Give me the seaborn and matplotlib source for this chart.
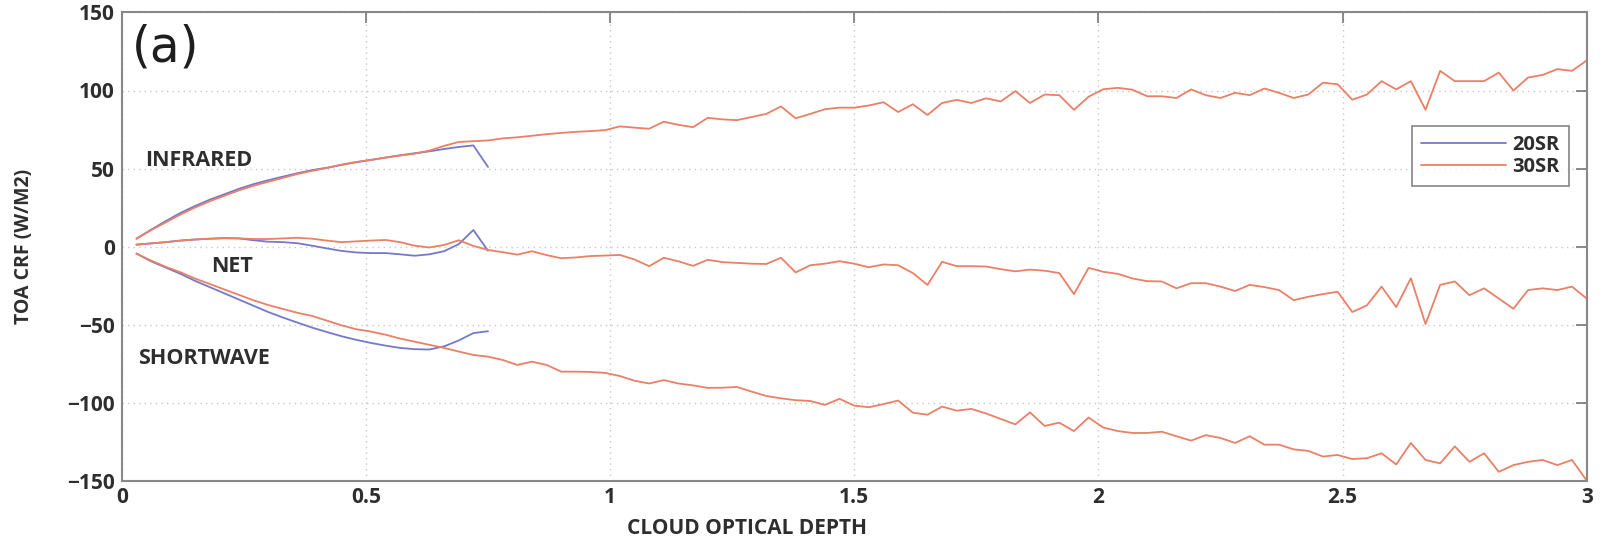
import numpy as np
import pandas as pd
import seaborn as sns
import matplotlib.pyplot as plt

# cloud optical depth grid (30SR runs to 3.0, 20SR stops at 0.75)
DEPTH_30 = np.round(np.arange(1, 101) * 0.03, 2)
DEPTH_20 = DEPTH_30[:25]

IR_30 = [5, 10.5, 15.5, 20.5, 25, 29, 32.5, 36, 39, 41.5,
         44, 46.5, 48.5, 50.3, 52.5, 54.2, 55.5, 57, 58.3, 59.5,
         61.5, 64.5, 67, 67.5, 68, 69.3, 70, 71, 72, 72.8,
         73.5, 74, 74.6, 77, 76.2, 75.5, 80, 78, 76.5, 82.5,
         81.5, 81, 83, 85, 89.8, 82.2, 85, 88, 89, 89,
         90.4, 92.5, 86.2, 91.2, 84.3, 92, 94, 92, 95, 93,
         99.6, 92, 97.4, 97, 87.6, 96, 100.8, 101.7, 100.5, 96.3,
         96.3, 95.2, 100.7, 97, 95.2, 98.5, 97, 101.3, 98.5, 95.2,
         97.4, 105, 104, 94.1, 97.4, 106, 100.7, 106, 87.6, 112.6,
         106, 106, 106, 111.5, 100, 108.3, 110, 113.7, 112.6, 119.2]

NET_30 = [1.2, 2, 2.8, 3.8, 4.5, 5, 5.3, 5.2, 4.8, 4.8,
          5.2, 5.6, 5, 3.8, 2.8, 3.3, 3.8, 4.2, 2.8, 0.5,
          -0.6, 1, 4, 0.4, -2.2, -3.6, -5.2, -3, -5.5, -7.5,
          -7, -6.1, -5.8, -5.4, -8.3, -12.6, -7.2, -9.5, -12.4, -8.5,
          -10, -10.5, -11, -11.2, -7.2, -16.6, -12, -11, -9.4, -11,
          -13.3, -11.5, -12, -17, -24.6, -9.8, -12.6, -12.6, -12.8, -14.5,
          -15.9, -14.8, -15.5, -17, -30.5, -13.7, -16.2, -17.5, -20.5, -22.2,
          -22.4, -26.8, -23.5, -23.5, -25.7, -28.5, -24.6, -26, -27.9, -34.4,
          -32.2, -30.5, -29, -42, -37.7, -25.7, -38.8, -20.3, -49.7, -24.6,
          -22.4, -31.2, -26.8, -33.3, -39.9, -27.9, -26.8, -27.9, -25.7, -33.3]

SW_30 = [-4.5, -9, -13, -16.5, -20.5, -24, -27.5, -31, -34.5, -37.5,
         -40, -42.5, -44.5, -47.5, -50.5, -53, -54.5, -56.5, -59, -61,
         -63, -65, -67.3, -69.5, -70.6, -72.7, -75.9, -73.8, -75.9, -80.2,
         -80.2, -80.4, -81, -83, -86, -87.8, -85.6, -87.8, -89, -90.6,
         -90.5, -90, -93, -95.8, -97.3, -98.5, -99, -101.5, -97.6, -102,
         -103, -101, -98.7, -106.5, -107.8, -102.6, -105.2, -104.1, -107, -110.5,
         -114, -106.3, -115, -112.9, -118.3, -109.6, -116, -118.3, -119.5, -119.5,
         -118.7, -121.6, -124.4, -120.9, -122.7, -125.9, -121.6, -127, -127, -130,
         -131, -134.6, -133.6, -136.2, -135.7, -132.5, -139.7, -125.9, -136.8, -139,
         -128.1, -138, -132.5, -144.4, -140.1, -138, -136.8, -140.1, -136.8, -150]

IR_20 = [5, 10.8, 16.3, 21.5, 26, 30, 33.5, 37, 40, 42.5,
         44.8, 47, 49, 50.5, 52.3, 54, 55.5, 57, 58.5, 59.8,
         61, 62.5, 63.8, 64.8, 51]
NET_20 = [1.2, 2, 2.8, 3.8, 4.5, 5, 5.4, 5.2, 4, 3.1,
          2.8, 2.1, 0.5, -1.2, -2.8, -3.8, -4.2, -4.2, -5, -5.9,
          -5, -3, 1.5, 10.6, -2.7]
SW_20 = [-4.5, -9.5, -13.5, -17.5, -22, -26, -30, -34, -38, -42,
         -45.5, -48.8, -52, -54.8, -57.5, -59.8, -61.8, -63.5, -65, -65.8,
         -66, -64, -60.2, -55.5, -54.3]

RUNS = ["20SR", "30SR"]
COLORS = {"20SR": "#7479c9", "30SR": "#ea8066"}

frames = []
for run, depth, series in [("20SR", DEPTH_20, {"IR": IR_20, "NET": NET_20, "SW": SW_20}),
                           ("30SR", DEPTH_30, {"IR": IR_30, "NET": NET_30, "SW": SW_30})]:
    for comp, vals in series.items():
        frames.append(pd.DataFrame({"depth": depth, "crf": vals,
                                    "component": comp, "run": run}))
df = pd.concat(frames, ignore_index=True)

sns.set_theme(style="white")
plt.rcParams['font.family'] = ['Open Sans', 'DejaVu Sans']
text_col = "#2e2e2e"

fig = plt.figure(figsize=(16.24, 5.43), dpi=100)
ax = fig.add_axes([0.075, 0.115, 0.902, 0.862])

sns.lineplot(data=df, x="depth", y="crf", hue="run", units="component",
             estimator=None, palette=COLORS, hue_order=RUNS, linewidth=1.3,
             sort=False, ax=ax)

ax.set_xlim(0, 3)
ax.set_ylim(-150, 150)
ax.set_xticks([0, 0.5, 1, 1.5, 2, 2.5, 3])
ax.set_xticklabels(["0", "0.5", "1", "1.5", "2", "2.5", "3"])
ax.set_yticks([-150, -100, -50, 0, 50, 100, 150])
ax.set_yticklabels(["\u2212150", "\u2212100", "\u221250", "0", "50", "100", "150"])
ax.grid(True, linestyle=(0, (1, 3)), color="#c8c8c8", linewidth=1.0)
ax.tick_params(direction="in", length=8, width=1.2, color="#777777",
               top=True, right=True, labelsize=15, labelcolor=text_col, pad=5)
for lab in ax.get_xticklabels() + ax.get_yticklabels():
    lab.set_fontweight("bold")
for sp in ax.spines.values():
    sp.set_color("#888888")
    sp.set_linewidth(1.5)

ax.set_xlabel("CLOUD OPTICAL DEPTH", fontsize=15, fontweight="bold", color=text_col)
ax.set_ylabel("TOA CRF (W/M2)", fontsize=14, fontweight="bold", color=text_col)
ax.xaxis.set_label_coords(0.427, -0.08)
ax.yaxis.set_label_coords(-0.060, 0.5)

ax.text(0.02, 127.5, "(a)", fontsize=35, family="DejaVu Sans", color="#1e1e1e",
        va="center", ha="left")
ax.text(0.047, 55, "INFRARED", fontsize=15.5, fontweight="bold", color=text_col, va="center")
ax.text(0.183, -12.5, "NET", fontsize=15.5, fontweight="bold", color=text_col, va="center")
ax.text(0.034, -71.5, "SHORTWAVE", fontsize=15.5, fontweight="bold", color=text_col, va="center")

leg = ax.legend(loc="upper right", bbox_to_anchor=(0.988, 0.758), borderaxespad=0,
                fontsize=14.5, frameon=True, fancybox=False, handlelength=4.2,
                borderpad=0.45, labelspacing=0.1, handletextpad=0.35)
leg.get_frame().set_edgecolor("#666666")
leg.get_frame().set_linewidth(1.2)
for t in leg.get_texts():
    t.set_color(text_col)
    t.set_fontweight("bold")

fig.savefig("out.png", dpi=100)
